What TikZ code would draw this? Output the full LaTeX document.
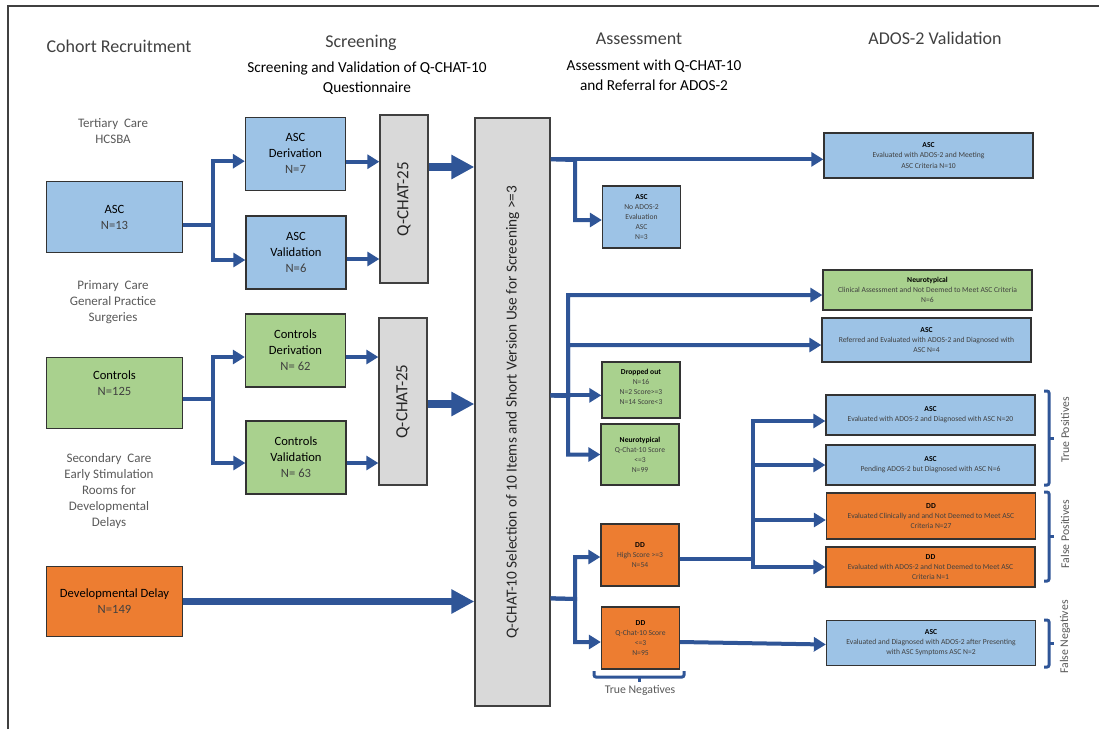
\documentclass[tikz,border=0pt]{standalone}
\usepackage{fontspec}
\setmainfont{Carlito}
\usetikzlibrary{arrows.meta,calc}
\definecolor{cblue}{HTML}{9DC3E6}
\definecolor{cgreen}{HTML}{A9D18E}
\definecolor{corange}{HTML}{ED7D31}
\definecolor{cgray}{HTML}{D9D9D9}
\definecolor{aline}{HTML}{2F5597}
\definecolor{txtgray}{HTML}{404040}
\definecolor{lblgray}{HTML}{595959}
\begin{document}
\begin{tikzpicture}[x=1pt,y=-1pt,
  box/.style={draw=black!80, line width=1.3pt, inner sep=1pt, align=center},
  bl/.style={box, fill=cblue}, gr/.style={box, fill=cgreen},
  og/.style={box, fill=corange}, gy/.style={box, fill=cgray, draw=black!75},
  bigt/.style={font=\fontsize{12.6}{16}\selectfont},
  sm/.style={font=\fontsize{7.6}{10.1}\selectfont, text=txtgray},
  lbl/.style={font=\fontsize{13}{16}\selectfont, text=lblgray, align=center},
  hdr/.style={font=\fontsize{18}{20}\selectfont, text=txtgray},
  subh/.style={font=\fontsize{15.3}{20}\selectfont, align=center},
  conn/.style={draw=aline, line width=4pt, -{Triangle[length=12pt,width=14pt]}},
  fat/.style={draw=aline, line width=7.5pt, -{Triangle[length=23pt,width=23pt]}},
  brk/.style={draw=aline, line width=3pt, rounded corners=2pt},
  side/.style={font=\fontsize{11.8}{14}\selectfont, text=lblgray, rotate=90},
  lb/.style={box, minimum width=135.5pt, minimum height=70.6pt, bigt},
  mb/.style={box, minimum width=100pt, minimum height=73pt, bigt},
  rb/.style={box, minimum width=209pt, sm},
  sb/.style={box, minimum width=78pt, sm},
]
\useasboundingbox (0,0) rectangle (1099,729);
\draw[line width=2pt, draw=black!75] (7.5,729) -- (7.5,5.5) -- (1099,5.5);

% headers
\node[hdr] (hCR) at (119,46) {Cohort Recruitment};
\node[hdr] (hSc) at (361,43) {Screening};
\node[subh] (hSc2) at (367,78) {Screening and Validation of Q-CHAT-10\\Questionnaire};
\node[hdr] (hAs) at (639,38.5) {Assessment};
\node[subh] (hAs2) at (654,75) {Assessment with Q-CHAT-10\\and Referral for ADOS-2};
\node[hdr] (hAD) at (935,38.5) {ADOS-2 Validation};

% left labels
\node[lbl] (lT) at (113,131) {Tertiary~~Care\\HCSBA};
\node[lbl] (lP) at (113,302) {Primary~~Care\\General Practice\\Surgeries};
\node[lbl] (lS) at (109,491) {Secondary~~Care\\Early Stimulation\\Rooms for\\Developmental\\Delays};

% left boxes
\node[lb, fill=cblue] (asc) at (114.5,217) {ASC\\\textcolor{txtgray}{N=13}};
\node[lb, fill=cgreen, label={[bigt, align=center, yshift=10pt]center:{Controls\\\textcolor{txtgray}{N=125}}}] (ctl) at (114.5,393) {};
\node[lb, fill=corange] (dd) at (114.5,601.5) {Developmental Delay\\\textcolor{txtgray}{N=149}};

% second column
\node[mb, fill=cblue] (ascder) at (295.5,153.7) {ASC\\Derivation\\\textcolor{txtgray}{N=7}};
\node[mb, fill=cblue] (ascval) at (296,252.5) {ASC\\Validation\\\textcolor{txtgray}{N=6}};
\node[mb, fill=cgreen] (conder) at (295.5,350.5) {Controls\\Derivation\\\textcolor{txtgray}{N= 62}};
\node[mb, fill=cgreen] (conval) at (296,457.5) {Controls\\Validation\\\textcolor{txtgray}{N= 63}};

% Q-CHAT-25 boxes
\node[gy, minimum width=48pt, minimum height=168pt, label={[rotate=90, font=\fontsize{17}{20}\selectfont, text=black!85]center:Q-CHAT-25}] (q1) at (404,199) {};
\node[gy, minimum width=48pt, minimum height=167pt, label={[rotate=90, font=\fontsize{17}{20}\selectfont, text=black!85]center:Q-CHAT-25}] (q2) at (403,401.5) {};

% big box
\node[gy, minimum width=75pt, minimum height=588pt, label={[rotate=90, font=\fontsize{15.3}{18}\selectfont, text=black!85]center:Q-CHAT-10 Selection of 10 Items and Short Version Use for Screening >=3}] (bigq) at (512.5,412) {};

% assessment column
\node[sb, fill=cblue, minimum height=62pt] (ascNo) at (641.5,217) {\textcolor{black}{\textbf{ASC}}\\No ADOS-2\\Evaluation\\ASC\\N=3};
\node[sb, fill=cgreen, minimum height=56pt, label={[sm, align=center, yshift=3pt]center:{\textcolor{black}{\textbf{Dropped out}}\\N=16\\N=2 Score>=3\\N=14 Score<3}}] (drop) at (641,390) {};
\node[sb, fill=cgreen, minimum height=61pt] (nt) at (640,454.5) {\textcolor{black}{\textbf{Neurotypical}}\\Q-Chat-10 Score\\<=3\\N=99};
\node[sb, fill=corange, minimum height=62pt] (ddHigh) at (640,555) {\textcolor{black}{\textbf{DD}}\\High Score >=3\\N=54};
\node[sb, fill=corange, minimum height=62pt] (ddQ) at (640.5,638) {\textcolor{black}{\textbf{DD}}\\Q-Chat-10 Score\\<=3\\N=95};

% ADOS-2 validation column
\node[rb, fill=cblue, minimum height=45pt] (ascTop) at (928.5,155.5) {\textcolor{black}{\textbf{ASC}}\\Evaluated with ADOS-2 and Meeting\\ASC Criteria N=10};
\node[rb, fill=cgreen, minimum height=40pt] (ntTop) at (927.5,290) {\textcolor{black}{\textbf{Neurotypical}}\\Clinical Assessment and Not Deemed to Meet ASC Criteria\\N=6};
\node[rb, fill=cblue, minimum height=44pt] (ascRef) at (926.5,340) {\textcolor{black}{\textbf{ASC}}\\Referred and Evaluated with ADOS-2 and Diagnosed with\\ASC N=4};
\node[rb, fill=cblue, minimum height=40pt] (asc20) at (930.5,415) {\textcolor{black}{\textbf{ASC}}\\Evaluated with ADOS-2 and Diagnosed with ASC N=20};
\node[rb, fill=cblue, minimum height=40pt] (ascPend) at (930.5,465) {\textcolor{black}{\textbf{ASC}}\\Pending ADOS-2 but Diagnosed with ASC N=6};
\node[rb, fill=corange, minimum height=46pt] (dd27) at (931,516) {\textcolor{black}{\textbf{DD}}\\Evaluated Clinically and and Not Deemed to Meet ASC\\Criteria N=27};
\node[rb, fill=corange, minimum height=40pt] (dd1) at (930.5,567) {\textcolor{black}{\textbf{DD}}\\Evaluated with ADOS-2 and Not Deemed to Meet ASC\\Criteria N=1};
\node[rb, fill=cblue, minimum height=45pt] (ascBot) at (931,643) {\textcolor{black}{\textbf{ASC}}\\Evaluated and Diagnosed with ADOS-2 after Presenting\\with ASC Symptoms ASC N=2};

% connectors: cohort to screening
\coordinate (jA) at (213,225);
\draw[conn] ($(asc.east)+(0,8)$) -- (jA) |- ($(ascder.west)+(0,7.5)$);
\draw[conn] ($(asc.east)+(0,8)$) -- (jA) |- ($(ascval.west)+(0,7.5)$);
\coordinate (jB) at (213,399);
\draw[conn] ($(ctl.east)+(0,6)$) -- (jB) |- ($(conder.west)+(0,6.5)$);
\draw[conn] ($(ctl.east)+(0,6)$) -- (jB) |- ($(conval.west)+(0,5.5)$);

% screening boxes to Q-CHAT-25
\coordinate (a1) at ($(ascder.east)+(0,8)$);
\coordinate (a2) at ($(ascval.east)+(0,6.5)$);
\coordinate (a3) at ($(conder.east)+(0,6.5)$);
\coordinate (a4) at ($(conval.east)+(0,5.5)$);
\draw[conn] (a1) -- (a1 -| q1.west);
\draw[conn] (a2) -- (a2 -| q1.west);
\draw[conn] (a3) -- (a3 -| q2.west);
\draw[conn] (a4) -- (a4 -| q2.west);

% thick arrows into Q-CHAT-10 box
\coordinate (q1o) at ($(q1.east)+(0,-32)$);
\coordinate (q2o) at ($(q2.east)+(0,2.5)$);
\draw[fat] (q1o) -- (q1o -| bigq.west);
\draw[fat] (q2o) -- (q2o -| bigq.west);
\draw[fat] (dd.east) -- (dd.east -| bigq.west);

% from Q-CHAT-10 box
\coordinate (b1) at ($(bigq.north east)+(0,42)$);
\coordinate (j1) at (575,160);
\draw[conn] (b1) -- (b1 -| ascTop.west);
\draw[conn] (b1) -- (j1) |- ($(ascNo.west)+(0,3)$);

\coordinate (b2) at ($(bigq.north east)+(0,278)$);
\coordinate (j2) at (568,396);
\draw[conn] (b2) -- (b2 -| drop.west);
\draw[conn] (b2) -- (j2) |- ($(ntTop.west)+(0,5)$);
\draw[conn] (b2) -- (j2) |- ($(ascRef.west)+(0,5)$);
\draw[conn] (b2) -- (j2) |- (nt.west);

\coordinate (b3) at ($(bigq.north east)+(0,481)$);
\coordinate (j3) at (575,599);
\draw[conn] (b3) -- (j3) |- ($(ddHigh.west)+(0,2)$);
\draw[conn] (b3) -- (j3) |- ($(ddQ.west)+(0,4)$);

% DD high to validation
\coordinate (d1) at ($(ddHigh.east)+(0,4)$);
\coordinate (j4) at (753,559);
\draw[conn] (d1) -- (j4) |- ($(asc20.west)+(0,6)$);
\draw[conn] (d1) -- (j4) |- (ascPend.west);
\draw[conn] (d1) -- (j4) |- ($(dd27.west)+(0,4)$);
\draw[conn] (d1) -- (j4) |- (dd1.west);
\draw[conn] ($(ddQ.east)+(0,4)$) -- ($(ascBot.west)+(0,1.5)$);

% brackets
\draw[brk] (1044,391) -- (1049,391) -- (1049,485) -- (1044,485);
\draw[brk] (1049,438) -- (1054,438);
\draw[brk] (1044,492) -- (1049,492) -- (1049,581) -- (1044,581);
\draw[brk] (1049,536.5) -- (1054,536.5);
\draw[brk] (1044,620) -- (1049,620) -- (1049,667) -- (1044,667);
\draw[brk] (1049,643.5) -- (1054,643.5);
\draw[brk] (594,671) -- (594,677) -- (684,677) -- (684,671);
\draw[brk] (639,677) -- (639,682);

\node[side] (tp) at (1065,430) {True Positives};
\node[side] (fp) at (1065,534) {False Positives};
\node[side] (fn) at (1065,637) {False Negatives};
\node[font=\fontsize{11.8}{14}\selectfont, text=lblgray] (tn) at (640,690) {True Negatives};
\end{tikzpicture}
\end{document}
